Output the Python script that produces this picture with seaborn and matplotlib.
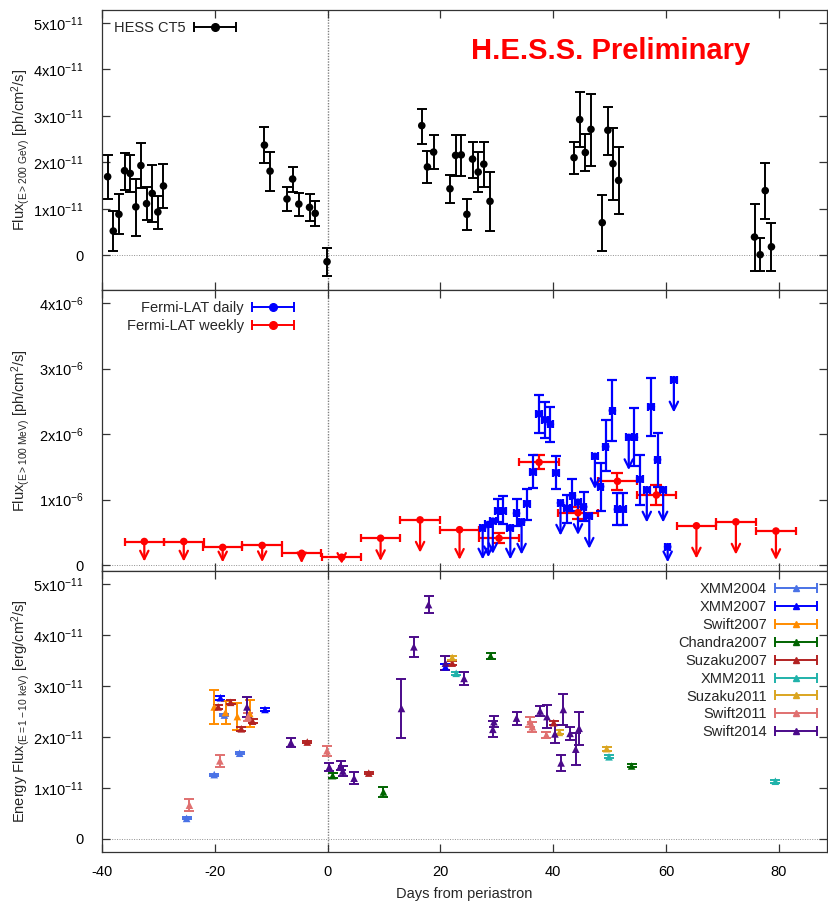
import numpy as np
import pandas as pd
import matplotlib
matplotlib.use("Agg")
import matplotlib.pyplot as plt
import seaborn as sns
from matplotlib.legend_handler import HandlerErrorbar
from matplotlib.container import ErrorbarContainer
from matplotlib.ticker import FuncFormatter

# ---------------- data ----------------
# H.E.S.S. CT5 (flux in units of 1e-11 ph/cm2/s)
hess_day = [-39.0, -38.0, -37.0, -36.0, -35.0, -34.0, -33.1, -32.1, -31.1, -30.1, -29.1,
            -11.2, -10.2, -7.2, -6.2, -5.1, -3.2, -2.2, -0.1,
            16.7, 17.7, 18.8, 21.7, 22.7, 23.7, 24.7, 25.7, 26.7, 27.7, 28.8,
            43.7, 44.7, 45.7, 46.7, 48.7, 49.7, 50.6, 51.6,
            75.7, 76.7, 77.6, 78.7]
hess_flux = [1.69, 0.52, 0.88, 1.82, 1.76, 1.04, 1.93, 1.11, 1.33, 0.93, 1.49,
             2.37, 1.81, 1.21, 1.64, 1.10, 1.03, 0.90, -0.14,
             2.79, 1.90, 2.22, 1.43, 2.15, 2.16, 0.88, 2.07, 1.79, 1.96, 1.16,
             2.10, 2.92, 2.21, 2.71, 0.70, 2.69, 1.97, 1.61,
             0.39, 0.01, 1.39, 0.18]
hess_lo = [1.21, 0.09, 0.45, 1.40, 1.37, 0.42, 1.44, 0.75, 0.71, 0.57, 1.02,
           1.99, 1.39, 0.95, 1.36, 0.84, 0.73, 0.63, -0.45,
           2.40, 1.55, 1.85, 1.13, 1.71, 1.71, 0.54, 1.67, 1.36, 1.47, 0.52,
           1.75, 2.32, 1.81, 1.92, 0.09, 2.16, 1.19, 0.88,
           -0.34, -0.34, 0.78, -0.34]
hess_hi = [2.16, 0.95, 1.31, 2.21, 2.16, 1.64, 2.42, 1.47, 1.95, 1.27, 1.96,
           2.75, 2.23, 1.46, 1.90, 1.34, 1.31, 1.16, 0.16,
           3.15, 2.24, 2.59, 1.72, 2.59, 2.59, 1.21, 2.44, 2.22, 2.44, 1.79,
           2.44, 3.52, 2.61, 3.48, 1.30, 3.20, 2.73, 2.33,
           1.11, 0.38, 1.98, 0.70]

# Fermi-LAT weekly (units of 1e-6 ph/cm2/s); ul = upper limit
week_day = [-32.5, -25.5, -18.6, -11.6, -4.6, 2.5, 9.4, 16.4, 23.4, 30.4, 37.5, 44.4,
            51.4, 58.3, 65.4, 72.4, 79.5]
week_flux = [0.36, 0.36, 0.27, 0.30, 0.18, 0.12, 0.41, 0.69, 0.54, 0.41, 1.57, 0.80,
             1.28, 1.07, 0.60, 0.66, 0.52]
week_lo = [0.36, 0.36, 0.27, 0.30, 0.18, 0.12, 0.41, 0.69, 0.54, 0.34, 1.47, 0.70,
           1.15, 0.91, 0.60, 0.66, 0.52]
week_hi = [0.36, 0.36, 0.27, 0.30, 0.18, 0.12, 0.41, 0.69, 0.54, 0.49, 1.68, 0.89,
           1.40, 1.23, 0.60, 0.66, 0.52]
week_ul = [1, 1, 1, 1, 1, 1, 1, 1, 1, 0, 0, 0, 0, 0, 1, 1, 1]

# Fermi-LAT daily
day_day = [27.5, 28.5, 29.3, 30.2, 31.1, 32.4, 33.5, 34.4, 35.4, 36.4, 37.5, 38.5,
           39.5, 40.5, 41.3, 42.4, 43.4, 44.4, 45.4, 46.4, 47.4, 48.4, 49.3, 50.5,
           51.4, 52.4, 53.4, 54.4, 55.4, 56.6, 57.4, 58.5, 59.5, 60.3, 61.4]
day_flux = [0.57, 0.62, 0.67, 0.83, 0.83, 0.57, 0.79, 0.66, 0.94, 1.42, 2.31, 2.22,
            2.15, 1.41, 0.95, 0.87, 1.06, 0.96, 0.89, 0.75, 1.66, 1.20, 1.81, 2.36,
            0.85, 0.85, 1.95, 1.95, 1.31, 1.15, 2.42, 1.61, 1.15, 0.28, 2.83]
day_lo = [0.57, 0.62, 0.67, 0.66, 0.62, 0.57, 0.60, 0.66, 0.69, 1.18, 2.02, 1.94,
          1.88, 1.16, 0.95, 0.64, 0.82, 0.96, 0.67, 0.75, 1.66, 0.82, 1.43, 1.90,
          0.61, 0.61, 1.95, 1.51, 0.92, 1.15, 1.97, 1.20, 1.15, 0.28, 2.83]
day_hi = [0.57, 0.62, 0.67, 1.01, 1.06, 0.57, 1.01, 0.66, 1.16, 1.68, 2.60, 2.49,
          2.42, 1.67, 0.95, 1.07, 1.31, 0.96, 1.11, 0.75, 1.66, 1.56, 2.21, 2.82,
          1.10, 1.10, 1.95, 2.40, 1.68, 1.15, 2.86, 2.02, 1.15, 0.28, 2.83]
day_ul = [1, 1, 1, 0, 0, 1, 0, 1, 0, 0, 0, 0,
          0, 0, 1, 0, 0, 1, 0, 1, 1, 0, 0, 0,
          0, 0, 1, 0, 0, 1, 0, 0, 1, 1, 1]

# X-ray energy flux (units of 1e-11 erg/cm2/s)
xray_names = ["XMM2004", "XMM2007", "Swift2007", "Chandra2007", "Suzaku2007",
              "XMM2011", "Suzaku2011", "Swift2011", "Swift2014"]
xray_colors = ["#4a72e6", "#0000ff", "#ff8c00", "#006400", "#b22222",
               "#20b2aa", "#daa520", "#e07070", "#4b0a8a"]
xray_day = {
    "XMM2004": [-25.0, -20.1, -18.3, -15.6],
    "XMM2007": [-19.0, -11.1, 20.9],
    "Swift2007": [-20.1, -18.1, -16.0, -13.8],
    "Chandra2007": [0.9, 9.9, 28.9, 53.9],
    "Suzaku2007": [-19.4, -17.2, -15.3, -13.3, -3.6, 7.3, 22.1, 40.1],
    "XMM2011": [22.8, 49.9, 79.4],
    "Suzaku2011": [22.1, 41.1, 49.5],
    "Swift2011": [-24.5, -19.1, -14.1, -0.1, 35.9, 36.3, 38.8],
    "Swift2014": [-14.3, -6.5, 0.3, 2.3, 2.7, 4.7, 13.1, 15.3, 17.9, 20.9, 24.2, 29.5,
                  29.3, 33.5, 37.7, 38.9, 40.3, 41.4, 41.8, 43.0, 44.0, 44.6],
}
xray_flux = {
    "XMM2004": [0.40, 1.26, 2.43, 1.68],
    "XMM2007": [2.77, 2.54, 3.38],
    "Swift2007": [2.59, 2.48, 2.40, 2.46],
    "Chandra2007": [1.24, 0.92, 3.59, 1.43],
    "Suzaku2007": [2.59, 2.68, 2.16, 2.31, 1.90, 1.29, 3.45, 2.28],
    "XMM2011": [3.25, 1.61, 1.13],
    "Suzaku2011": [3.56, 2.09, 1.77],
    "Swift2011": [0.66, 1.53, 2.40, 1.73, 2.30, 2.20, 2.04],
    "Swift2014": [2.59, 1.89, 1.41, 1.44, 1.33, 1.19, 2.56, 3.77, 4.60, 3.45, 3.15, 2.30,
                  2.15, 2.37, 2.51, 2.40, 2.06, 1.49, 2.54, 2.07, 1.76, 2.17],
}
xray_err = {
    "XMM2004": [0.02, 0.02, 0.02, 0.02],
    "XMM2007": [0.04, 0.03, 0.06],
    "Swift2007": [0.33, 0.22, 0.26, 0.26],
    "Chandra2007": [0.05, 0.09, 0.05, 0.03],
    "Suzaku2007": [0.04, 0.04, 0.04, 0.04, 0.02, 0.02, 0.04, 0.04],
    "XMM2011": [0.03, 0.03, 0.03],
    "Suzaku2011": [0.04, 0.04, 0.04],
    "Swift2011": [0.12, 0.12, 0.08, 0.10, 0.10, 0.10, 0.06],
    "Swift2014": [0.19, 0.09, 0.08, 0.09, 0.09, 0.12, 0.58, 0.19, 0.16, 0.14, 0.13, 0.11,
                  0.16, 0.13, 0.10, 0.22, 0.17, 0.15, 0.31, 0.13, 0.32, 0.33],
}

x_ticks = [-40, -20, 0, 20, 40, 60, 80]

# ---------------- style ----------------
sns.set_theme(style="ticks")
plt.rcParams["font.family"] = ["Liberation Sans", "DejaVu Sans"]
plt.rcParams["mathtext.fontset"] = "custom"
plt.rcParams["mathtext.rm"] = "Liberation Sans"
plt.rcParams["mathtext.it"] = "Liberation Sans:italic"
plt.rcParams["mathtext.bf"] = "Liberation Sans:bold"
plt.rcParams["axes.unicode_minus"] = False

FS = 10.5
W, H = 829, 908
fig = plt.figure(figsize=(W / 100, H / 100), dpi=100)
left = 102 / W
width = 724.7 / W
ax1 = fig.add_axes([left, (H - 290) / H, width, 280 / H])
ax2 = fig.add_axes([left, (H - 571) / H, width, 281 / H], sharex=ax1)
ax3 = fig.add_axes([left, (H - 852) / H, width, 281 / H], sharex=ax1)

hm = {ErrorbarContainer: HandlerErrorbar(xerr_size=1.44)}
LEG = dict(frameon=False, markerfirst=False, handler_map=hm, numpoints=1,
           handlelength=2.95, fontsize=FS, handletextpad=0.5)

def fmt_factory(exp):
    def f(v, p):
        if abs(v) < 1e-9:
            return "0"
        return "%dx10$^{%d}$" % (int(round(v)), exp)
    return FuncFormatter(f)

for ax in (ax1, ax2, ax3):
    ax.set_xlim(-40, 88.5)
    ax.axvline(0, color="#808080", lw=1.0, ls=(0, (1, 1)), zorder=0)
    ax.axhline(0, color="#909090", lw=0.7, ls=(0, (1, 1.5)), zorder=0)
    ax.tick_params(direction="in", top=True, right=True, length=6, width=0.9,
                   labelsize=FS, colors="#333333", labelcolor="black")
    ax.tick_params(axis="y", pad=13)
    for s in ax.spines.values():
        s.set_linewidth(0.9)
        s.set_color("#333333")
    ax.set_xticks(x_ticks)
    ax.yaxis.set_label_coords(-0.0966, 0.5)

# ---------------- panel 1: HESS ----------------
hd = pd.DataFrame({"day": hess_day, "flux": hess_flux, "lo": hess_lo, "hi": hess_hi})
ax1.errorbar(hd["day"], hd["flux"], yerr=[hd["flux"] - hd["lo"], hd["hi"] - hd["flux"]],
             fmt="none", ecolor="black", elinewidth=1.4, capsize=3.6, capthick=1.4)
sns.scatterplot(data=hd, x="day", y="flux", ax=ax1, color="black", s=30,
                edgecolor="none", zorder=3, legend=False)
ax1.set_ylim(-0.75, 5.28)
ax1.set_yticks([0, 1, 2, 3, 4, 5])
ax1.yaxis.set_major_formatter(fmt_factory(-11))
ax1.tick_params(labelbottom=False)
ax1.set_xlabel("")
ax1.set_ylabel(r"Flux$_{\mathrm{(E>200\ GeV)}}$ [ph/cm$^2$/s]", fontsize=FS)
p1 = ax1.errorbar([np.nan], [np.nan], xerr=[1], fmt="o", color="black", ms=5.5,
                  lw=1.4, capsize=3.6, capthick=1.4)
ax1.legend([p1], ["HESS CT5"], loc="upper left", borderaxespad=0.35,
           bbox_to_anchor=(0.002, 1.0), **LEG)
fig.text(0.737, 0.944, "H.E.S.S. Preliminary", color="red", fontweight="bold",
         fontsize=21, ha="center", va="center")

# ---------------- panel 2: Fermi ----------------
BLUE, RED = "#0000ff", "#ff0000"
wd = pd.DataFrame({"day": week_day, "flux": week_flux, "lo": week_lo, "hi": week_hi,
                   "ul": week_ul})
dd = pd.DataFrame({"day": day_day, "flux": day_flux, "lo": day_lo, "hi": day_hi,
                   "ul": day_ul})

def draw_fermi(df, color, half_width, cap, ms):
    ax2.errorbar(df["day"], df["flux"], xerr=half_width, fmt="none", ecolor=color,
                 elinewidth=1.6, capsize=cap, capthick=1.6, zorder=2)
    det = df[df["ul"] == 0]
    ax2.errorbar(det["day"], det["flux"], yerr=[det["flux"] - det["lo"], det["hi"] - det["flux"]],
                 fmt="none", ecolor=color, elinewidth=1.6, capsize=cap + 1, capthick=1.6,
                 zorder=2)
    ul = df[df["ul"] == 1]
    for x, y in zip(ul["day"], ul["flux"]):
        tip = max(y - 0.5, 0.15 * y)
        ax2.annotate("", xy=(x, tip), xytext=(x, y),
                     arrowprops=dict(arrowstyle="->", color=color, lw=1.6,
                                     mutation_scale=15, shrinkA=0, shrinkB=0),
                     zorder=2)
    sns.scatterplot(data=df, x="day", y="flux", ax=ax2, color=color, s=ms,
                    edgecolor="none", zorder=3, legend=False)

draw_fermi(wd, RED, 3.5, 3.0, 30)
draw_fermi(dd, BLUE, 0.5, 2.8, 30)
ax2.set_ylim(-0.09, 4.2)
ax2.set_yticks([0, 1, 2, 3, 4])
ax2.yaxis.set_major_formatter(fmt_factory(-6))
ax2.tick_params(labelbottom=False)
ax2.set_xlabel("")
ax2.set_ylabel(r"Flux$_{\mathrm{(E>100\ MeV)}}$ [ph/cm$^2$/s]", fontsize=FS)
pb = ax2.errorbar([np.nan], [np.nan], xerr=[1], fmt="o", color=BLUE, ms=5.5,
                  lw=1.4, capsize=3.6, capthick=1.4)
pr = ax2.errorbar([np.nan], [np.nan], xerr=[1], fmt="o", color=RED, ms=5.5,
                  lw=1.4, capsize=3.6, capthick=1.4)
ax2.legend([pb, pr], ["Fermi-LAT daily", "Fermi-LAT weekly"], loc="upper left",
           borderaxespad=0.35, labelspacing=0.26, bbox_to_anchor=(0.019, 1.0), **LEG)

# ---------------- panel 3: X-rays ----------------
rows = []
for n in xray_names:
    for d, f, e in zip(xray_day[n], xray_flux[n], xray_err[n]):
        rows.append({"day": d, "flux": f, "err": e, "instrument": n})
xd = pd.DataFrame(rows)
pal = dict(zip(xray_names, xray_colors))
handles = []
for n in xray_names:
    sub = xd[xd["instrument"] == n]
    ax3.errorbar(sub["day"], sub["flux"], yerr=sub["err"], fmt="none", ecolor=pal[n],
                 elinewidth=1.4, capsize=3.6, capthick=1.4, zorder=2)
    handles.append(ax3.errorbar([np.nan], [np.nan], xerr=[1], fmt="^", color=pal[n],
                                ms=5, lw=1.4, capsize=3.6, capthick=1.4))
sns.scatterplot(data=xd, x="day", y="flux", hue="instrument", palette=pal, ax=ax3,
                marker="^", s=30, edgecolor="none", zorder=3, legend=False)
ax3.set_ylim(-0.26, 5.26)
ax3.set_yticks([0, 1, 2, 3, 4, 5])
ax3.yaxis.set_major_formatter(fmt_factory(-11))
ax3.set_xlabel("Days from periastron", fontsize=FS, labelpad=6)
ax3.set_ylabel(r"Energy Flux$_{\mathrm{(E=1-10\ keV)}}$ [erg/cm$^2$/s]", fontsize=FS)
ax3.legend(handles, xray_names, loc="upper right", borderaxespad=0.35,
           labelspacing=0.27, bbox_to_anchor=(1.002, 1.0), **LEG)
ax3.tick_params(axis="x", pad=9)

fig.savefig("out.png", dpi=100)
